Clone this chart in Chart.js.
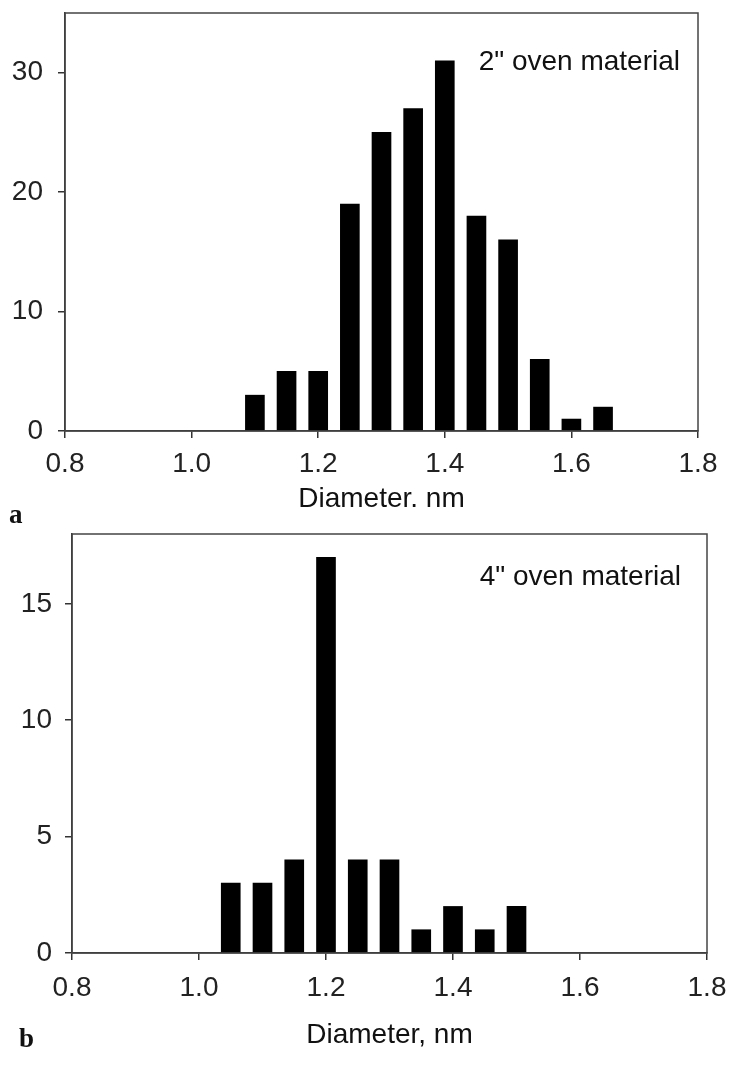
<!DOCTYPE html>
<html>
<head>
<meta charset="utf-8">
<script src="https://cdn.jsdelivr.net/npm/chart.js@4.4.1/dist/chart.umd.min.js"></script>
<style>
  html, body { margin: 0; padding: 0; background: #fff; }
  #pagina { position: relative; width: 730px; height: 1077px; overflow: hidden; }
  canvas { position: absolute; left: 0; }
  #graficoA { top: 0; }
  #graficoB { top: 530px; }
  .painel { position: absolute; font: bold 27px "Liberation Serif", serif; line-height: 24px; color: #111; }
</style>
</head>
<body>
<div id="pagina">
  <canvas id="graficoA" width="730" height="530"></canvas>
  <canvas id="graficoB" width="730" height="547"></canvas>
  <div class="painel" style="left:9px; top:502px">a</div>
  <div class="painel" style="left:19px; top:1026px">b</div>
</div>
<script>
// dados (contagem por diametro, nm)
const diametrosA = [1.10, 1.15, 1.20, 1.25, 1.30, 1.35, 1.40, 1.45, 1.50, 1.55, 1.60, 1.65];
const contagensA = [3, 5, 5, 19, 25, 27, 31, 18, 16, 6, 1, 2];
const diametrosB = [1.05, 1.10, 1.15, 1.20, 1.25, 1.30, 1.35, 1.40, 1.45, 1.50];
const contagensB = [3, 3, 4, 17, 4, 4, 1, 2, 1, 2];
const ticksX = [0.8, 1.0, 1.2, 1.4, 1.6, 1.8];
const ticksYA = [0, 10, 20, 30];
const ticksYB = [0, 5, 10, 15];

const FONTE = "'Liberation Sans', Arial, sans-serif";

// caixa em volta da area do grafico
const moldura = {
  id: 'moldura',
  afterDraw(chart) {
    const { ctx, chartArea } = chart;
    ctx.save();
    ctx.strokeStyle = '#444';
    ctx.lineWidth = 1.5;
    ctx.strokeRect(chartArea.left, chartArea.top, chartArea.right - chartArea.left, chartArea.bottom - chartArea.top);
    ctx.restore();
  }
};

// texto no canto superior direito
const notaCanto = {
  id: 'notaCanto',
  afterDraw(chart, args, opts) {
    const { ctx, chartArea } = chart;
    ctx.save();
    ctx.font = '28px ' + FONTE;
    ctx.fillStyle = '#111';
    ctx.textAlign = 'right';
    ctx.textBaseline = 'alphabetic';
    ctx.fillText(opts.texto, chartArea.right - opts.direita, chartArea.top + opts.baixo);
    ctx.restore();
  }
};

function montarGrafico(id, diametros, contagens, cfg) {
  const eixo = { display: true, color: '#333', width: 1.5 };
  const grade = { display: true, drawOnChartArea: false, drawTicks: true, tickLength: 7, color: '#333', lineWidth: 1.5, offset: false };

  new Chart(document.getElementById(id), {
    type: 'bar',
    data: {
      datasets: [{
        data: diametros.map((d, i) => ({ x: d, y: contagens[i] })),
        backgroundColor: '#000',
        borderWidth: 0,
        barThickness: 19
      }]
    },
    options: {
      responsive: false,
      animation: false,
      devicePixelRatio: 1,
      layout: { padding: cfg.padding },
      plugins: {
        legend: { display: false },
        tooltip: { enabled: false },
        notaCanto: cfg.nota
      },
      scales: {
        x: {
          type: 'linear',
          min: 0.8,
          max: 1.8,
          offset: false,
          afterBuildTicks: s => { s.ticks = ticksX.map(v => ({ value: v })); },
          afterFit: s => { s.height = cfg.alturaX; s.paddingLeft = 0; s.paddingRight = 0; },
          grid: grade,
          border: eixo,
          ticks: {
            padding: cfg.padX,
            color: '#222',
            maxRotation: 0,
            autoSkip: false,
            font: { family: FONTE, size: 28 },
            callback: v => v.toFixed(1)
          },
          title: {
            display: true,
            text: cfg.titulo,
            color: '#111',
            font: { family: FONTE, size: 28, lineHeight: 1 },
            padding: { top: 0, bottom: cfg.padTitulo }
          }
        },
        y: {
          min: 0,
          max: cfg.maxY,
          afterBuildTicks: s => { s.ticks = cfg.ticksY.map(v => ({ value: v })); },
          afterFit: s => { s.width = cfg.larguraY; s.paddingTop = 0; s.paddingBottom = 0; },
          grid: grade,
          border: eixo,
          ticks: {
            padding: cfg.padY,
            color: '#222',
            font: { family: FONTE, size: 28 }
          }
        }
      }
    },
    plugins: [moldura, notaCanto]
  });
}

montarGrafico('graficoA', diametrosA, contagensA, {
  padding: { left: 0, top: 13, right: 32, bottom: 0 },
  alturaX: 99,
  larguraY: 65,
  padX: 9,
  padY: 15,
  padTitulo: 17,
  maxY: 35,
  ticksY: ticksYA,
  titulo: 'Diameter. nm',
  nota: { texto: '2" oven material', direita: 18, baixo: 57 }
});

montarGrafico('graficoB', diametrosB, contagensB, {
  padding: { left: 0, top: 4, right: 23, bottom: 0 },
  alturaX: 124,
  larguraY: 72,
  padX: 11,
  padY: 13,
  padTitulo: 28,
  maxY: 18,
  ticksY: ticksYB,
  titulo: 'Diameter, nm',
  nota: { texto: '4" oven material', direita: 26, baixo: 51 }
});
</script>
</body>
</html>
